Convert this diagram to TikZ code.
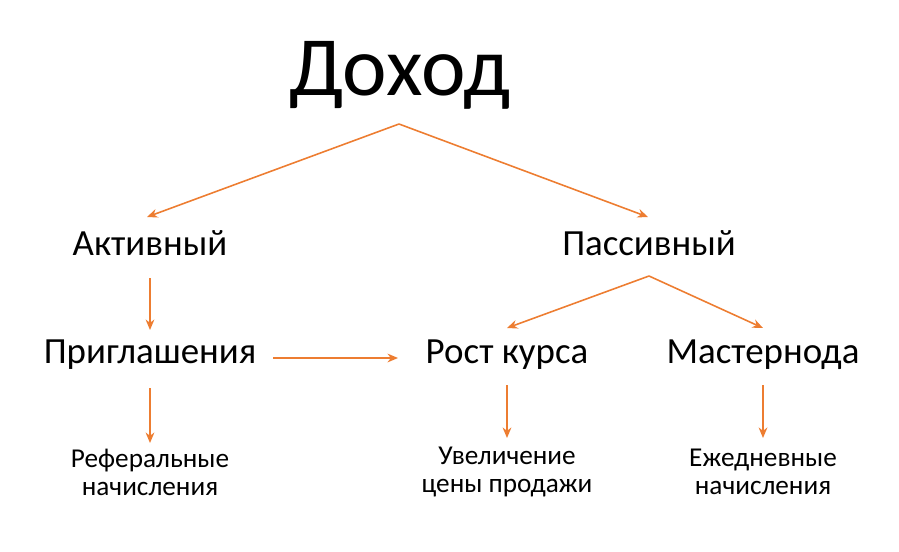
\documentclass[tikz,border=0pt]{standalone}
\usepackage{fontspec}
\setmainfont{Carlito}
\usetikzlibrary{arrows.meta}
\begin{document}
\begin{tikzpicture}[x=0.02cm,y=-0.02cm,
  con/.style={draw={rgb,255:red,237;green,125;blue,49},line width=0.9pt,-{Stealth[length=6pt,width=5pt]}},
  big/.style={font=\fontsize{21}{25}\selectfont,inner sep=0pt},
  small/.style={font=\fontsize{15.5}{16}\selectfont,align=center,inner sep=0pt}]
\useasboundingbox (0,0) rectangle (899,551);
\node[font=\fontsize{48}{56}\selectfont,inner sep=0pt] (dohod) at (400,75) {Доход};
\node[big] (akt) at (150,243) {Активный};
\node[big] (pas) at (649,243) {Пассивный};
\node[big] (prig) at (150,355) {Приглашения};
\node[big] (rost) at (507,355) {Рост курса};
\node[big] (mast) at (763,355) {Мастернода};
\node[small] (ref) at (150,472) {Реферальные\\начисления};
\node[small] (uvel) at (507,472) {Увеличение\\цены продажи};
\node[small] (ezh) at (763,472) {Ежедневные\\начисления};
\coordinate (apex) at (399,124);
\coordinate (aktT) at (147,217);
\coordinate (pasT) at (648,217);
\coordinate (pasB) at (649,276);
\coordinate (rostT) at (507,328);
\coordinate (mastT) at (763,328);
\coordinate (aktB) at (150,278);
\coordinate (prigT) at (150,330);
\coordinate (prigR) at (273,358);
\coordinate (rostL) at (398,358);
\coordinate (prigB) at (150,388);
\coordinate (refT) at (150,443);
\coordinate (rostB) at (507,385);
\coordinate (uvelT) at (507,438);
\coordinate (mastB) at (763,385);
\coordinate (ezhT) at (763,438);
\draw[con] (apex) -- (aktT);
\draw[con] (apex) -- (pasT);
\draw[con] (pasB) -- (rostT);
\draw[con] (pasB) -- (mastT);
\draw[con] (aktB) -- (prigT);
\draw[con] (prigR) -- (rostL);
\draw[con] (prigB) -- (refT);
\draw[con] (rostB) -- (uvelT);
\draw[con] (mastB) -- (ezhT);
\end{tikzpicture}
\end{document}
